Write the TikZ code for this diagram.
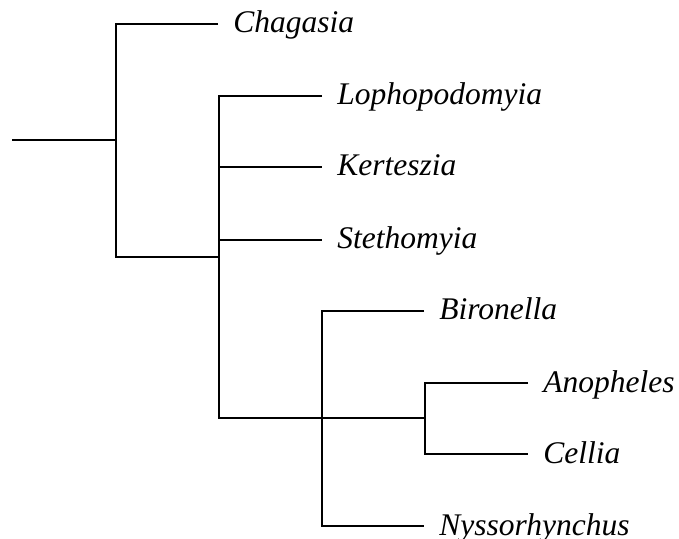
\documentclass[tikz,border=0pt]{standalone}
\usepackage{fontspec}
\setmainfont{Liberation Serif}[ItalicFont={Liberation Serif Italic}]
\usepackage{tikz}
\tikzset{
    taxon/.style={anchor=west, inner xsep=7.5pt, inner ysep=0pt, text height=9pt, text depth=0pt, font=\fontsize{15.75}{18}\selectfont\itshape},
    branch/.style={draw=black, line width=1pt}
}

\begin{document}
\begin{tikzpicture}[
        x=0.5pt, y=-0.5pt,
        % --- STYLE ---
        branch/.append style={line join=miter, line cap=butt}
    ]
        \useasboundingbox (0,0) rectangle (679,539);

        % --- TEN LOAI (LEAVES) ---
        \node[taxon] (chag) at (218,24) {Chagasia};
        \node[taxon] (loph) at (322,96) {Lophopodomyia};
        \node[taxon] (kert) at (322,167) {Kerteszia};
        \node[taxon] (steth) at (322,240) {Stethomyia};
        \node[taxon] (biro) at (424,311) {Bironella};
        \node[taxon] (anoph) at (528,383) {Anopheles};
        \node[taxon] (cell) at (528,454) {Cellia};
        \node[taxon] (nyss) at (424,526) {Nyssorhynchus};

        % --- CAC NUT TRONG ---
        \coordinate (root) at (12,140);
        \coordinate (n1) at (116,140);
        \coordinate (n2) at (219,257);
        \coordinate (n3) at (322,418);
        \coordinate (n4) at (425,418);

        % --- CANH ---
        \draw[branch] (root) -- (n1);
        \draw[branch] (chag.west) -| (n1) |- (n2);
        \draw[branch] (loph.west) -| (n2) |- (n4);
        \draw[branch] (n2 |- kert.west) -- (kert.west);
        \draw[branch] (n2 |- steth.west) -- (steth.west);
        \draw[branch] (biro.west) -| (n3) |- (nyss.west);
        \draw[branch] (anoph.west) -| (n4) |- (cell.west);

    \end{tikzpicture}
\end{document}
